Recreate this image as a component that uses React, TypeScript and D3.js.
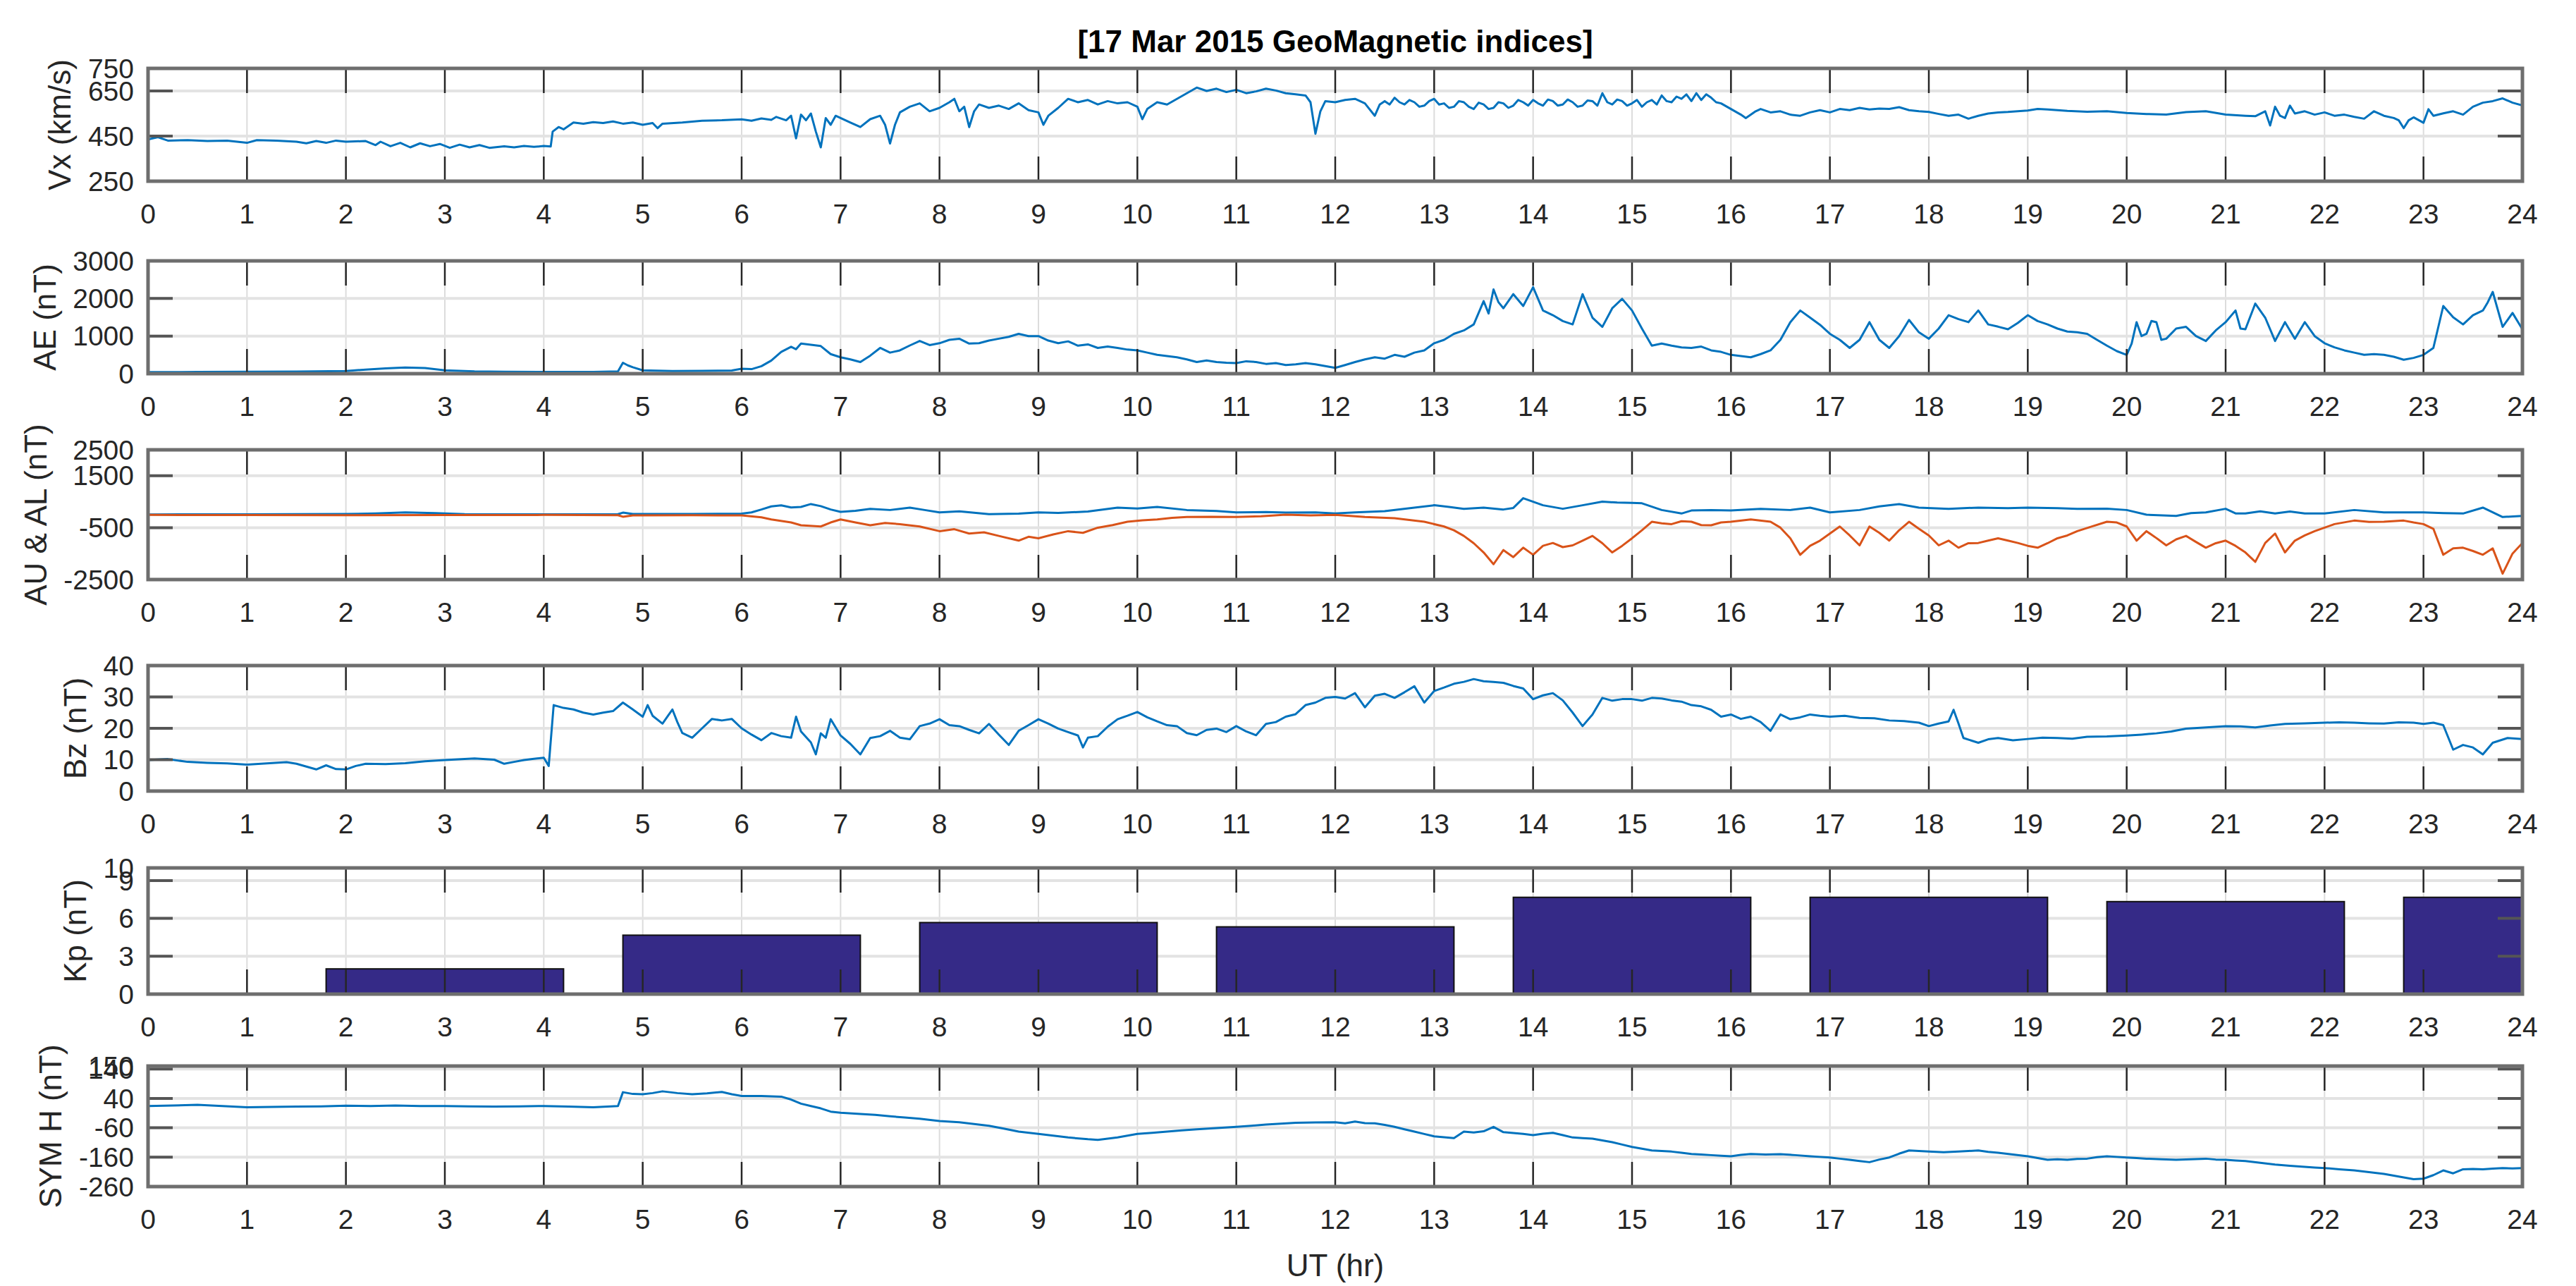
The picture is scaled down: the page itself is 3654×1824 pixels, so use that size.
import * as d3 from "d3";

// readings are [hour UT, value]
const VX: [number, number][] = [
  [0, 435], [0.1, 445], [0.2, 430], [0.4, 432], [0.6, 428], [0.8, 430], [1.0, 420], [1.1, 432], [1.3, 430], [1.5, 425],
  [1.6, 418], [1.7, 428], [1.8, 420], [1.9, 430], [2.0, 425], [2.2, 428], [2.3, 410], [2.35, 425], [2.45, 405], [2.55, 420],
  [2.65, 400], [2.75, 418], [2.85, 405], [2.95, 415], [3.05, 398], [3.15, 412], [3.25, 400], [3.35, 410], [3.45, 398], [3.6, 405],
  [3.7, 400], [3.8, 406], [3.9, 402], [4.0, 406], [4.07, 404], [4.09, 470], [4.15, 490], [4.2, 480], [4.3, 510], [4.4, 505],
  [4.5, 512], [4.6, 508], [4.7, 515], [4.8, 505], [4.9, 510], [5.0, 500], [5.1, 508], [5.15, 485], [5.2, 505], [5.4, 510],
  [5.6, 518], [5.8, 520], [6.0, 524], [6.1, 518], [6.2, 528], [6.3, 522], [6.35, 535], [6.45, 520], [6.5, 540], [6.55, 440],
  [6.6, 545], [6.65, 520], [6.7, 550], [6.75, 470], [6.8, 400], [6.85, 530], [6.9, 500], [6.95, 540], [7.0, 530], [7.1, 510],
  [7.2, 490], [7.3, 525], [7.4, 540], [7.45, 500], [7.5, 417], [7.55, 500], [7.6, 555], [7.7, 580], [7.8, 595], [7.9, 560],
  [8.0, 575], [8.1, 600], [8.15, 615], [8.2, 560], [8.25, 580], [8.3, 490], [8.35, 560], [8.4, 590], [8.5, 575], [8.6, 585],
  [8.7, 570], [8.8, 595], [8.9, 565], [9.0, 555], [9.05, 500], [9.1, 540], [9.2, 575], [9.3, 615], [9.4, 600], [9.5, 610],
  [9.6, 590], [9.7, 605], [9.8, 595], [9.9, 600], [10.0, 580], [10.05, 525], [10.1, 570], [10.2, 600], [10.3, 590], [10.4, 615],
  [10.5, 640], [10.6, 665], [10.7, 650], [10.8, 660], [10.9, 645], [11.0, 655], [11.1, 640], [11.2, 648], [11.3, 660], [11.4, 652],
  [11.5, 640], [11.6, 635], [11.7, 630], [11.75, 600], [11.8, 460], [11.85, 560], [11.9, 605], [12.0, 600], [12.1, 610], [12.2, 615],
  [12.3, 595], [12.4, 540], [12.45, 590], [12.5, 605], [12.55, 590], [12.6, 620], [12.65, 600], [12.7, 590], [12.75, 610], [12.8, 600],
  [12.85, 580], [12.9, 585], [12.95, 605], [13.0, 615], [13.05, 590], [13.1, 595], [13.15, 575], [13.2, 580], [13.25, 605], [13.3, 600],
  [13.35, 580], [13.4, 570], [13.45, 598], [13.5, 590], [13.55, 570], [13.6, 575], [13.65, 600], [13.7, 595], [13.75, 575], [13.8, 585],
  [13.85, 610], [13.9, 600], [13.95, 585], [14.0, 610], [14.05, 595], [14.1, 585], [14.15, 612], [14.2, 605], [14.25, 585], [14.3, 590],
  [14.35, 612], [14.4, 600], [14.45, 580], [14.5, 585], [14.55, 608], [14.6, 605], [14.65, 585], [14.7, 640], [14.75, 600], [14.8, 590],
  [14.85, 612], [14.9, 605], [14.95, 585], [15.0, 595], [15.05, 610], [15.1, 580], [15.15, 600], [15.2, 610], [15.25, 590], [15.3, 630],
  [15.35, 605], [15.4, 600], [15.45, 625], [15.5, 615], [15.55, 635], [15.6, 605], [15.65, 640], [15.7, 610], [15.75, 635], [15.8, 620],
  [15.85, 600], [15.9, 595], [16.0, 570], [16.1, 545], [16.15, 530], [16.25, 560], [16.3, 570], [16.4, 555], [16.5, 560], [16.6, 545],
  [16.7, 540], [16.8, 555], [16.9, 565], [17.0, 555], [17.1, 570], [17.2, 565], [17.3, 575], [17.4, 568], [17.5, 572], [17.6, 570],
  [17.7, 578], [17.8, 565], [17.9, 560], [18.0, 557], [18.1, 548], [18.2, 540], [18.3, 545], [18.4, 527], [18.5, 540], [18.6, 550],
  [18.7, 555], [18.8, 557], [19.0, 563], [19.1, 570], [19.2, 568], [19.4, 562], [19.6, 558], [19.8, 560], [20.0, 552], [20.2, 548],
  [20.4, 545], [20.6, 556], [20.8, 560], [21.0, 545], [21.2, 540], [21.3, 538], [21.4, 560], [21.45, 497], [21.5, 580], [21.55, 540],
  [21.6, 530], [21.65, 585], [21.7, 550], [21.8, 560], [21.9, 545], [22.0, 555], [22.1, 540], [22.2, 545], [22.3, 535], [22.4, 527],
  [22.5, 560], [22.6, 540], [22.7, 530], [22.75, 520], [22.8, 485], [22.85, 520], [22.9, 533], [23.0, 509], [23.05, 569], [23.1, 540],
  [23.2, 551], [23.3, 560], [23.4, 545], [23.5, 580], [23.6, 598], [23.7, 605], [23.8, 617], [23.9, 598], [24, 586],
];

const AE: [number, number][] = [
  [0, 40], [0.5, 45], [1, 50], [1.5, 55], [2, 70], [2.2, 110], [2.4, 140], [2.6, 165], [2.8, 150], [3, 90],
  [3.3, 60], [3.6, 50], [4, 45], [4.5, 45], [4.75, 60], [4.8, 290], [4.85, 220], [4.9, 170], [5, 90], [5.3, 70],
  [5.6, 75], [5.9, 85], [6.0, 130], [6.1, 120], [6.2, 200], [6.3, 350], [6.4, 580], [6.5, 715], [6.55, 650], [6.6, 800],
  [6.7, 770], [6.8, 735], [6.9, 520], [7.0, 435], [7.1, 380], [7.2, 310], [7.3, 480], [7.4, 685], [7.5, 560], [7.6, 620],
  [7.7, 750], [7.8, 870], [7.9, 760], [8.0, 810], [8.1, 900], [8.2, 930], [8.3, 800], [8.4, 810], [8.5, 880], [8.6, 930],
  [8.7, 980], [8.8, 1060], [8.9, 1000], [9.0, 1000], [9.1, 880], [9.2, 810], [9.3, 860], [9.4, 745], [9.5, 780], [9.6, 685],
  [9.7, 720], [9.8, 685], [9.9, 640], [10.0, 620], [10.1, 560], [10.2, 500], [10.3, 470], [10.4, 435], [10.5, 380], [10.6, 310],
  [10.7, 350], [10.8, 310], [10.9, 290], [11.0, 280], [11.1, 330], [11.2, 310], [11.3, 260], [11.4, 280], [11.5, 230], [11.6, 250],
  [11.7, 280], [11.8, 250], [11.9, 200], [12.0, 155], [12.1, 230], [12.2, 310], [12.3, 380], [12.4, 435], [12.5, 400], [12.6, 500],
  [12.7, 450], [12.8, 560], [12.9, 620], [13.0, 810], [13.1, 900], [13.2, 1060], [13.3, 1150], [13.4, 1310], [13.5, 1930], [13.55, 1600],
  [13.6, 2240], [13.65, 1900], [13.7, 1740], [13.8, 2115], [13.9, 1800], [14.0, 2300], [14.1, 1680], [14.2, 1555], [14.3, 1400], [14.4, 1310],
  [14.5, 2115], [14.6, 1490], [14.7, 1245], [14.8, 1740], [14.9, 1990], [15.0, 1680], [15.1, 1200], [15.2, 745], [15.3, 800], [15.4, 745],
  [15.5, 700], [15.6, 685], [15.7, 720], [15.8, 620], [15.9, 580], [16.0, 500], [16.1, 470], [16.2, 435], [16.3, 520], [16.4, 620],
  [16.5, 900], [16.6, 1370], [16.7, 1680], [16.8, 1490], [16.9, 1300], [17.0, 1060], [17.1, 900], [17.2, 685], [17.3, 900], [17.4, 1370],
  [17.5, 900], [17.6, 685], [17.7, 1000], [17.8, 1430], [17.9, 1100], [18.0, 930], [18.1, 1200], [18.2, 1555], [18.3, 1450], [18.4, 1370],
  [18.5, 1680], [18.6, 1310], [18.7, 1250], [18.8, 1180], [18.9, 1350], [19.0, 1555], [19.1, 1400], [19.2, 1310], [19.3, 1200], [19.4, 1120],
  [19.5, 1100], [19.6, 1060], [19.7, 900], [19.8, 745], [19.9, 600], [20.0, 500], [20.05, 800], [20.1, 1370], [20.15, 1000], [20.2, 1060],
  [20.25, 1400], [20.3, 1370], [20.35, 900], [20.4, 930], [20.5, 1200], [20.6, 1245], [20.7, 1000], [20.8, 870], [20.9, 1150], [21.0, 1370],
  [21.1, 1680], [21.15, 1200], [21.2, 1180], [21.3, 1865], [21.4, 1490], [21.5, 870], [21.6, 1370], [21.7, 930], [21.8, 1370], [21.9, 1000],
  [22.0, 810], [22.1, 700], [22.2, 620], [22.3, 560], [22.4, 500], [22.5, 520], [22.6, 500], [22.7, 450], [22.8, 370], [22.9, 420],
  [23.0, 500], [23.1, 685], [23.2, 1800], [23.3, 1500], [23.4, 1310], [23.5, 1555], [23.6, 1680], [23.65, 1900], [23.7, 2175], [23.8, 1245],
  [23.9, 1615], [24, 1180],
];

const AU: [number, number][] = [
  [0, 10], [1, 15], [2, 25], [2.3, 50], [2.6, 90], [2.9, 60], [3.2, 20], [4, 15], [4.75, 20], [4.8, 80],
  [4.9, 30], [5.5, 25], [6.0, 40], [6.1, 90], [6.2, 200], [6.3, 320], [6.4, 360], [6.5, 280], [6.6, 300], [6.7, 410],
  [6.8, 330], [6.9, 200], [7.0, 110], [7.15, 150], [7.3, 227], [7.5, 180], [7.7, 273], [7.85, 180], [8.0, 90], [8.2, 130],
  [8.5, 20], [8.8, 40], [9.0, 90], [9.2, 70], [9.5, 120], [9.8, 273], [10.0, 240], [10.2, 300], [10.5, 180], [10.8, 140],
  [11.0, 90], [11.3, 100], [11.5, 80], [11.8, 90], [12.0, 45], [12.2, 90], [12.5, 135], [12.8, 273], [13.0, 364], [13.15, 300],
  [13.3, 227], [13.5, 273], [13.7, 200], [13.8, 260], [13.9, 636], [14.0, 500], [14.1, 364], [14.3, 227], [14.5, 364], [14.7, 500],
  [14.85, 470], [15.0, 455], [15.1, 440], [15.3, 180], [15.5, 45], [15.6, 160], [15.8, 180], [16.0, 160], [16.3, 227], [16.6, 180],
  [16.8, 273], [17.0, 90], [17.3, 180], [17.5, 318], [17.7, 410], [17.9, 273], [18.2, 227], [18.5, 273], [18.8, 250], [19.0, 273],
  [19.3, 250], [19.5, 227], [19.8, 230], [20.0, 180], [20.2, 0], [20.5, -45], [20.65, 60], [20.8, 90], [21.0, 227], [21.1, 50],
  [21.2, 45], [21.35, 130], [21.5, 45], [21.65, 120], [21.8, 45], [22.0, 45], [22.3, 180], [22.6, 90], [23.0, 90], [23.2, 60],
  [23.4, 45], [23.6, 273], [23.8, -90], [24, -45],
];

const AL: [number, number][] = [
  [0, -10], [1, -15], [2, -20], [3, -15], [4, -10], [4.75, -20], [4.8, -80], [4.9, -30], [5.5, -20], [6.0, -30],
  [6.2, -100], [6.3, -182], [6.5, -300], [6.6, -409], [6.8, -455], [6.9, -300], [7.0, -182], [7.15, -300], [7.3, -409], [7.45, -320],
  [7.6, -364], [7.8, -455], [8.0, -636], [8.15, -560], [8.3, -727], [8.45, -680], [8.6, -818], [8.8, -1000], [8.9, -850], [9.0, -909],
  [9.15, -760], [9.3, -636], [9.45, -700], [9.6, -500], [9.75, -400], [9.9, -273], [10.05, -220], [10.2, -182], [10.35, -120], [10.5, -91],
  [10.75, -80], [11.0, -91], [11.25, -60], [11.5, 0], [11.75, -30], [12.0, -10], [12.3, -91], [12.6, -136], [12.9, -273], [13.1, -455],
  [13.2, -600], [13.3, -818], [13.4, -1100], [13.5, -1455], [13.6, -1909], [13.7, -1364], [13.8, -1636], [13.9, -1273], [14.0, -1545], [14.1, -1200],
  [14.2, -1091], [14.3, -1250], [14.4, -1182], [14.5, -1000], [14.6, -818], [14.7, -1100], [14.8, -1455], [14.9, -1200], [15.0, -909], [15.1, -600],
  [15.2, -273], [15.3, -330], [15.4, -364], [15.5, -250], [15.6, -273], [15.7, -400], [15.8, -409], [15.9, -300], [16.0, -273], [16.2, -182],
  [16.4, -273], [16.5, -500], [16.6, -909], [16.7, -1545], [16.8, -1200], [16.9, -1000], [17.0, -727], [17.1, -455], [17.2, -800], [17.3, -1182],
  [17.4, -455], [17.5, -700], [17.6, -1000], [17.7, -600], [17.8, -273], [17.9, -545], [18.0, -800], [18.1, -1182], [18.2, -1000], [18.3, -1273],
  [18.4, -1100], [18.5, -1091], [18.6, -1000], [18.7, -909], [18.8, -1000], [18.9, -1091], [19.0, -1200], [19.1, -1273], [19.2, -1100], [19.3, -909],
  [19.4, -800], [19.5, -636], [19.65, -450], [19.8, -273], [19.9, -300], [20.0, -455], [20.1, -1000], [20.2, -636], [20.3, -900], [20.4, -1182],
  [20.5, -950], [20.6, -818], [20.7, -1050], [20.8, -1273], [20.9, -1100], [21.0, -1000], [21.1, -1200], [21.2, -1455], [21.3, -1818], [21.4, -1091],
  [21.5, -727], [21.6, -1455], [21.7, -1000], [21.8, -800], [21.9, -636], [22.0, -500], [22.1, -364], [22.3, -227], [22.45, -280], [22.6, -273],
  [22.8, -227], [22.9, -300], [23.0, -364], [23.1, -545], [23.2, -1545], [23.3, -1300], [23.4, -1273], [23.5, -1400], [23.6, -1545], [23.7, -1300],
  [23.8, -2273], [23.9, -1500], [24, -1091],
];

const BZ: [number, number][] = [
  [0, 9.9], [0.2, 10.2], [0.4, 9.3], [0.6, 9.0], [0.8, 8.8], [1.0, 8.4], [1.2, 8.8], [1.4, 9.2], [1.5, 8.7], [1.6, 7.8],
  [1.7, 6.9], [1.8, 8.2], [1.9, 7.0], [2.0, 6.9], [2.1, 8.0], [2.2, 8.7], [2.4, 8.6], [2.6, 8.9], [2.8, 9.5], [3.0, 9.9],
  [3.2, 10.2], [3.3, 10.4], [3.5, 10.0], [3.6, 8.7], [3.7, 9.3], [3.8, 9.9], [3.9, 10.3], [4.0, 10.6], [4.05, 8.0], [4.1, 27.4],
  [4.2, 26.5], [4.3, 26.0], [4.4, 25], [4.5, 24.4], [4.6, 25], [4.7, 25.5], [4.8, 28.2], [4.9, 26], [5.0, 23.7], [5.05, 27.4],
  [5.1, 24], [5.2, 21.5], [5.3, 26], [5.35, 22], [5.4, 18.5], [5.5, 17], [5.6, 20], [5.7, 23], [5.8, 22.5], [5.9, 23],
  [6.0, 20], [6.1, 18], [6.2, 16.2], [6.3, 18.5], [6.4, 17.5], [6.5, 17], [6.55, 23.7], [6.6, 19], [6.7, 15.5], [6.75, 11.7],
  [6.8, 18.4], [6.85, 17], [6.9, 22.9], [7.0, 17.7], [7.1, 15], [7.2, 11.7], [7.3, 16.9], [7.4, 17.5], [7.5, 19.2], [7.6, 17],
  [7.7, 16.5], [7.8, 20.7], [7.9, 21.5], [8.0, 22.9], [8.1, 21], [8.2, 20.7], [8.3, 19.5], [8.4, 18.4], [8.5, 21.4], [8.6, 18],
  [8.7, 14.7], [8.8, 19.2], [8.9, 21], [9.0, 22.9], [9.1, 21.5], [9.2, 19.9], [9.3, 18.8], [9.4, 17.7], [9.45, 13.9], [9.5, 17],
  [9.6, 17.5], [9.7, 20.5], [9.8, 22.9], [9.9, 24], [10.0, 25.2], [10.1, 23.5], [10.2, 22.2], [10.3, 21], [10.4, 20.7], [10.5, 18.5],
  [10.6, 17.8], [10.7, 19.5], [10.8, 19.9], [10.9, 18.8], [11.0, 20.7], [11.1, 19], [11.2, 17.8], [11.3, 21.4], [11.4, 22], [11.5, 23.7],
  [11.6, 24.5], [11.7, 27.4], [11.8, 28.2], [11.9, 29.7], [12.0, 30], [12.1, 29.5], [12.2, 31.2], [12.3, 26.7], [12.4, 30.4], [12.5, 31],
  [12.6, 29.7], [12.7, 31.5], [12.8, 33.4], [12.9, 28.2], [13.0, 31.9], [13.1, 33], [13.2, 34.2], [13.3, 34.8], [13.4, 35.7], [13.5, 35],
  [13.6, 34.8], [13.7, 34.5], [13.8, 33.5], [13.9, 32.7], [14.0, 29.3], [14.1, 30.5], [14.2, 31.2], [14.3, 28.9], [14.4, 25], [14.5, 20.7],
  [14.6, 24.4], [14.7, 29.7], [14.8, 28.8], [14.9, 29.3], [15.0, 29.3], [15.1, 28.8], [15.2, 29.7], [15.3, 29.5], [15.4, 28.9], [15.5, 28.5],
  [15.6, 27.4], [15.7, 27], [15.8, 25.9], [15.9, 23.7], [16.0, 24.4], [16.1, 23], [16.2, 23.7], [16.3, 22], [16.4, 19.2], [16.5, 24.4],
  [16.6, 22.9], [16.7, 23.5], [16.8, 24.4], [16.9, 24], [17.0, 23.7], [17.15, 24], [17.3, 23.3], [17.45, 23.2], [17.6, 22.5], [17.75, 22.3],
  [17.9, 21.8], [18.0, 20.7], [18.1, 21.5], [18.2, 22.2], [18.25, 25.9], [18.3, 21.5], [18.35, 16.9], [18.5, 15.4], [18.6, 16.5], [18.7, 16.9],
  [18.85, 16.2], [19.0, 16.6], [19.15, 17], [19.3, 16.9], [19.45, 16.7], [19.6, 17.3], [19.8, 17.4], [20.0, 17.7], [20.15, 18], [20.3, 18.4],
  [20.45, 19], [20.6, 19.9], [20.8, 20.3], [21.0, 20.7], [21.15, 20.6], [21.3, 20.3], [21.45, 20.9], [21.6, 21.4], [21.8, 21.6], [22.0, 21.8],
  [22.15, 21.9], [22.3, 21.8], [22.45, 21.6], [22.6, 21.5], [22.75, 21.9], [22.9, 21.8], [23.0, 21.4], [23.1, 21.8], [23.2, 21], [23.3, 13.2],
  [23.4, 14.7], [23.5, 13.9], [23.6, 11.7], [23.7, 15.4], [23.85, 16.9], [24, 16.6],
];

const SYMH: [number, number][] = [
  [0, 14], [0.25, 16], [0.5, 18], [0.75, 14], [1.0, 10], [1.25, 11], [1.5, 12], [1.75, 13], [2.0, 15], [2.25, 14],
  [2.5, 16], [2.75, 14], [3.0, 14], [3.25, 13], [3.5, 12], [3.75, 13], [4.0, 14], [4.25, 12], [4.5, 10], [4.75, 14],
  [4.8, 61], [4.9, 55], [5.0, 54], [5.1, 58], [5.2, 64], [5.35, 58], [5.5, 54], [5.65, 57], [5.8, 62], [5.9, 54],
  [6.0, 48], [6.2, 48], [6.4, 46], [6.5, 36], [6.6, 22], [6.7, 14], [6.8, 6], [6.9, -5], [7.0, -9], [7.2, -13],
  [7.35, -16], [7.5, -21], [7.65, -25], [7.8, -29], [8.0, -37], [8.2, -41], [8.35, -47], [8.5, -53], [8.65, -63], [8.8, -73],
  [9.0, -81], [9.15, -87], [9.3, -93], [9.5, -99], [9.6, -101], [9.8, -93], [10.0, -81], [10.15, -77], [10.3, -73], [10.45, -69],
  [10.6, -65], [10.8, -61], [11.0, -57], [11.15, -53], [11.3, -49], [11.45, -46], [11.6, -43], [11.8, -42], [12.0, -41], [12.1, -45],
  [12.2, -39], [12.3, -44], [12.4, -45], [12.5, -50], [12.6, -57], [12.7, -65], [12.8, -73], [12.9, -81], [13.0, -89], [13.1, -92],
  [13.2, -95], [13.3, -73], [13.4, -76], [13.5, -72], [13.6, -57], [13.7, -75], [13.8, -78], [13.9, -81], [14.0, -85], [14.1, -80],
  [14.2, -77], [14.3, -85], [14.4, -93], [14.5, -95], [14.6, -97], [14.7, -103], [14.8, -109], [14.9, -117], [15.0, -125], [15.1, -131],
  [15.2, -137], [15.3, -139], [15.4, -141], [15.5, -145], [15.6, -149], [15.7, -151], [15.8, -153], [15.9, -155], [16.0, -157], [16.1, -152],
  [16.2, -149], [16.35, -151], [16.5, -150], [16.65, -153], [16.8, -157], [16.9, -159], [17.0, -161], [17.1, -165], [17.2, -169], [17.3, -173],
  [17.4, -177], [17.5, -168], [17.6, -161], [17.7, -148], [17.8, -137], [17.9, -139], [18.0, -141], [18.15, -143], [18.3, -141], [18.4, -139],
  [18.5, -137], [18.6, -142], [18.7, -145], [18.85, -151], [19.0, -157], [19.1, -163], [19.2, -169], [19.3, -167], [19.4, -169], [19.5, -166],
  [19.6, -165], [19.7, -160], [19.8, -157], [19.9, -159], [20.0, -161], [20.1, -163], [20.2, -165], [20.35, -167], [20.5, -169], [20.65, -167],
  [20.8, -165], [20.9, -168], [21.0, -169], [21.1, -171], [21.2, -173], [21.35, -179], [21.5, -185], [21.65, -189], [21.8, -193], [21.9, -195],
  [22.0, -197], [22.15, -201], [22.3, -205], [22.45, -211], [22.6, -217], [22.7, -223], [22.8, -229], [22.9, -235], [23.0, -233], [23.1, -221],
  [23.2, -205], [23.3, -215], [23.4, -201], [23.5, -200], [23.6, -201], [23.7, -199], [23.8, -197], [23.9, -198], [24, -197],
];

const KP_HOURS = [3, 6, 9, 12, 15, 18, 21, 24];
const KP_VALUES = [2, 4.67, 5.67, 5.33, 7.67, 7.67, 7.33, 7.67];

const HOURS = d3.range(0, 25);
const VX_TICKS = [250, 450, 650, 750];
const AE_TICKS = [0, 1000, 2000, 3000];
const AUAL_TICKS = [-2500, -500, 1500, 2500];
const BZ_TICKS = [0, 10, 20, 30, 40];
const KP_TICKS = [0, 3, 6, 9, 10];
const SYMH_TICKS = [-260, -160, -60, 40, 140, 150];

const TITLE = "[17 Mar 2015 GeoMagnetic indices]";
const XLABEL = "UT (hr)";

const BLUE = "#0072BD";
const ORANGE = "#D95319";
const BAR = "#352A87";
const FONT = "'Liberation Sans', Arial, Helvetica, sans-serif";

const W = 3654;
const H = 1824;
const X0 = 210;
const X1 = 3578;
const TICK_LEN = 35;
const TICK_FS = 39;

type Series = { data: [number, number][]; color: string };
type Panel = {
  id: string;
  label: string;
  top: number;
  bottom: number;
  domain: [number, number];
  ticks: number[];
  series: Series[];
  bars?: boolean;
};

const panels: Panel[] = [
  { id: "vx", label: "Vx (km/s)", top: 97, bottom: 257, domain: [250, 750], ticks: VX_TICKS, series: [{ data: VX, color: BLUE }] },
  { id: "ae", label: "AE (nT)", top: 370, bottom: 530, domain: [0, 3000], ticks: AE_TICKS, series: [{ data: AE, color: BLUE }] },
  {
    id: "aual",
    label: "AU & AL (nT)",
    top: 638,
    bottom: 822,
    domain: [-2500, 2500],
    ticks: AUAL_TICKS,
    series: [
      { data: AU, color: BLUE },
      { data: AL, color: ORANGE },
    ],
  },
  { id: "bz", label: "Bz (nT)", top: 944, bottom: 1122, domain: [0, 40], ticks: BZ_TICKS, series: [{ data: BZ, color: BLUE }] },
  { id: "kp", label: "Kp (nT)", top: 1231, bottom: 1410, domain: [0, 10], ticks: KP_TICKS, series: [], bars: true },
  { id: "symh", label: "SYM H (nT)", top: 1512, bottom: 1683, domain: [-260, 150], ticks: SYMH_TICKS, series: [{ data: SYMH, color: BLUE }] },
];

// rough Arial advance widths so the ylabel sits left of the widest tick label
function labelWidth(s: string) {
  let w = 0;
  for (const ch of s) w += ch === "-" ? 0.333 : 0.556;
  return w * TICK_FS;
}

function PanelView({ p }: { p: Panel }) {
  const x = d3.scaleLinear().domain([0, 24]).range([X0, X1]);
  const y = d3.scaleLinear().domain(p.domain).range([p.bottom, p.top]);
  const line = d3
    .line<[number, number]>()
    .x((d) => x(d[0]))
    .y((d) => y(d[1]));
  const maxW = d3.max(p.ticks, (t) => labelWidth(String(t))) ?? 0;
  const labelX = 190 - maxW - 40;
  const midY = (p.top + p.bottom) / 2;
  const barW = x(2.4) - x(0);

  return (
    <g>
      <defs>
        <clipPath id={`clip-${p.id}`}>
          <rect x={X0} y={p.top} width={X1 - X0} height={p.bottom - p.top} />
        </clipPath>
      </defs>
      <rect x={X0} y={p.top} width={X1 - X0} height={p.bottom - p.top} fill="#fff" />

      {/* grid */}
      {HOURS.map((h) => (
        <line key={`vg${h}`} x1={x(h)} x2={x(h)} y1={p.top} y2={p.bottom} stroke="#dcdcdc" strokeWidth={2} />
      ))}
      {p.ticks.map((t) => (
        <line key={`hg${t}`} x1={X0} x2={X1} y1={y(t)} y2={y(t)} stroke="#e3e3e3" strokeWidth={4} />
      ))}

      <g clipPath={`url(#clip-${p.id})`}>
        {p.bars &&
          KP_HOURS.map((h, i) => (
            <rect
              key={h}
              x={x(h) - barW / 2}
              y={y(KP_VALUES[i])}
              width={barW}
              height={y(0) - y(KP_VALUES[i])}
              fill={BAR}
              stroke="#111"
              strokeWidth={2}
            />
          ))}
        {p.series.map((s, i) => (
          <path key={i} d={line(s.data) ?? ""} fill="none" stroke={s.color} strokeWidth={3} strokeLinejoin="round" />
        ))}
      </g>

      {/* ticks */}
      {HOURS.map((h) => (
        <g key={`t${h}`} stroke="#262626" strokeWidth={2.5}>
          <line x1={x(h)} x2={x(h)} y1={p.top} y2={p.top + TICK_LEN} />
          <line x1={x(h)} x2={x(h)} y1={p.bottom} y2={p.bottom - TICK_LEN} />
        </g>
      ))}
      {p.ticks.map((t) => (
        <g key={`yt${t}`} stroke="#555" strokeWidth={4}>
          <line x1={X0} x2={X0 + TICK_LEN} y1={y(t)} y2={y(t)} />
          <line x1={X1} x2={X1 - TICK_LEN} y1={y(t)} y2={y(t)} />
        </g>
      ))}

      <rect x={X0} y={p.top} width={X1 - X0} height={p.bottom - p.top} fill="none" stroke="#6e6e6e" strokeWidth={5} />

      {/* tick labels */}
      {HOURS.map((h) => (
        <text key={`xl${h}`} x={x(h)} y={p.bottom + 60} textAnchor="middle" fontSize={TICK_FS} fill="#262626">
          {h}
        </text>
      ))}
      {p.ticks.map((t) => (
        <text key={`yl${t}`} x={190} y={y(t)} dy="0.35em" textAnchor="end" fontSize={TICK_FS} fill="#262626">
          {t}
        </text>
      ))}
      <text
        transform={`translate(${labelX},${midY}) rotate(-90)`}
        textAnchor="middle"
        dy="0.35em"
        fontSize={44}
        fill="#262626"
      >
        {p.label}
      </text>
    </g>
  );
}

export default function App() {
  return (
    <svg
      width={W}
      height={H}
      viewBox={`0 0 ${W} ${H}`}
      style={{ position: "absolute", left: 0, top: 0, display: "block", background: "#fff" }}
      fontFamily={FONT}
    >
      <rect width={W} height={H} fill="#fff" />
      <text x={(X0 + X1) / 2} y={74} textAnchor="middle" fontSize={44} fontWeight="bold" fill="#000">
        {TITLE}
      </text>
      {panels.map((p) => (
        <PanelView key={p.id} p={p} />
      ))}
      <text x={(X0 + X1) / 2} y={1810} textAnchor="middle" fontSize={44} fill="#262626">
        {XLABEL}
      </text>
    </svg>
  );
}
